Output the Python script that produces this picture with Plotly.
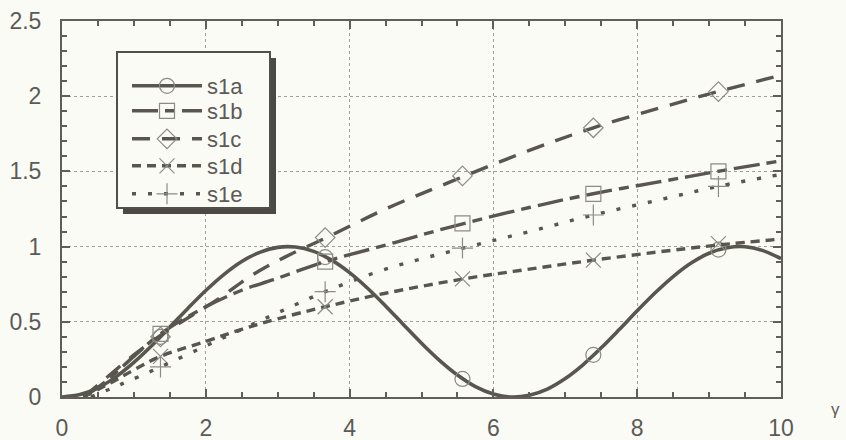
import plotly.graph_objects as go

# ---------------- data ----------------
names = ["s1a", "s1b", "s1c", "s1d", "s1e"]

s1a_x = [0, 0.25, 0.5, 0.75, 1.0, 1.25, 1.5, 1.75, 2.0, 2.25, 2.5, 2.75, 3.0, 3.25,
         3.5, 3.75, 4.0, 4.25, 4.5, 4.75, 5.0, 5.25, 5.5, 5.75, 6.0, 6.25, 6.5, 6.75,
         7.0, 7.25, 7.5, 7.75, 8.0, 8.25, 8.5, 8.75, 9.0, 9.25, 9.5, 9.75, 10.0]
s1a_y = [0.0, 0.016, 0.061, 0.134, 0.23, 0.342, 0.465, 0.589, 0.708, 0.814, 0.901,
         0.962, 0.995, 0.997, 0.968, 0.91, 0.827, 0.723, 0.605, 0.481, 0.358, 0.244,
         0.146, 0.069, 0.02, 0.0, 0.012, 0.053, 0.123, 0.216, 0.327, 0.448, 0.573,
         0.693, 0.801, 0.891, 0.956, 0.992, 0.999, 0.973, 0.92]

s1b_x = [0.3, 0.6, 1.0, 1.37, 2.0, 2.5, 2.94, 3.66, 4.5, 5.4, 6.5, 7.37, 8.3, 9.12, 10.0]
s1b_y = [0.0, 0.1, 0.27, 0.42, 0.6, 0.71, 0.78, 0.9, 1.01, 1.13, 1.26, 1.35, 1.43, 1.5, 1.57]

s1c_x = [0.3, 0.6, 1.0, 1.37, 1.8, 2.2, 2.61, 3.1, 3.68, 4.5, 5.4, 6.5, 7.39, 8.3, 9.12, 10.0]
s1c_y = [0.0, 0.12, 0.28, 0.41, 0.54, 0.66, 0.8, 0.93, 1.06, 1.25, 1.43, 1.64, 1.79, 1.92, 2.03, 2.14]

s1d_x = [0.3, 0.7, 1.0, 1.37, 2.0, 2.5, 3.0, 3.66, 4.5, 5.58, 6.5, 7.39, 8.3, 9.12, 10.0]
s1d_y = [0.0, 0.1, 0.18, 0.27, 0.37, 0.45, 0.52, 0.6, 0.69, 0.785, 0.85, 0.91, 0.965, 1.01, 1.05]

s1e_x = [0.4, 0.8, 1.37, 2.0, 2.5, 3.0, 3.66, 4.5, 5.58, 6.5, 7.39, 8.3, 9.12, 10.0]
s1e_y = [0.0, 0.08, 0.2, 0.34, 0.45, 0.56, 0.7, 0.85, 0.99, 1.1, 1.21, 1.31, 1.4, 1.48]

marker_x = [1.37, 3.66, 5.57, 7.39, 9.13]
s1a_m = [0.40, 0.93, 0.12, 0.28, 0.98]
s1b_m = [0.42, 0.90, 1.155, 1.35, 1.50]
s1c_m = [0.40, 1.06, 1.47, 1.79, 2.03]
s1d_m = [0.27, 0.60, 0.785, 0.91, 1.02]
s1e_m = [0.20, 0.70, 0.99, 1.21, 1.40]

x_ticks = [0, 2, 4, 6, 8, 10]
y_ticks = [0, 0.5, 1, 1.5, 2, 2.5]
y_tick_text = ["0", "0.5", "1", "1.5", "2", "2.5"]
x_label = "γ"

# ---------------- styling ----------------
LINE = "rgb(88,86,78)"
MARK = "rgb(140,140,133)"
TEXT = "rgb(90,90,88)"
BG = "rgb(251,251,245)"
GRID = "rgb(160,160,155)"
FONT = "Liberation Sans, Arial, sans-serif"

lines = [(s1a_x, s1a_y), (s1b_x, s1b_y), (s1c_x, s1c_y), (s1d_x, s1d_y), (s1e_x, s1e_y)]
marks = [s1a_m, s1b_m, s1c_m, s1d_m, s1e_m]
dashes = ["solid", "26px,7px,10px,7px", "18px,12px", "9px,6px", "4px,12px"]
symbols = ["circle-open", "square-open", "diamond-open", "x-thin-open", "cross-thin-open"]
widths = [3.6, 3.4, 3.4, 3.4, 3.4]
legend_ids = ["legend", "legend2", "legend3", "legend4", "legend5"]

fig = go.Figure()
for i, nm in enumerate(names):
    lx, ly = lines[i]
    fig.add_trace(go.Scatter(
        x=lx, y=ly, mode="lines", showlegend=False, hoverinfo="skip",
        line=dict(color=LINE, width=widths[i], dash=dashes[i], shape="spline", smoothing=1.0)))
    fig.add_trace(go.Scatter(
        x=marker_x, y=marks[i], mode="markers", showlegend=False,
        marker=dict(symbol=symbols[i], size=15, color=MARK, line=dict(color=MARK, width=1.2))))
    # legend entry (line + symbol)
    fig.add_trace(go.Scatter(
        x=[None], y=[None], mode="lines+markers", name=nm, legend=legend_ids[i],
        line=dict(color=LINE, width=widths[i], dash=dashes[i]),
        marker=dict(symbol=symbols[i], size=15, color=MARK, line=dict(color=MARK, width=1.2))))

# plot area: x 62..781, y 21..397 px
L, R, T, B = 62, 781, 21, 397
W, H = R - L, B - T

def px(x):
    return (x - L) / W

def py(y):
    return (B - y) / H

# legend frame with 3D shadow
fig.add_shape(type="rect", xref="paper", yref="paper",
              x0=px(123), x1=px(276), y0=py(214), y1=py(58),
              fillcolor="rgb(75,74,66)", line=dict(width=0), layer="above")
fig.add_shape(type="rect", xref="paper", yref="paper",
              x0=px(117), x1=px(270), y0=py(208), y1=py(52),
              fillcolor=BG, line=dict(color="rgb(80,79,72)", width=2), layer="above")

axis_common = dict(
    showline=True, linecolor="rgb(95,94,88)", linewidth=2, mirror="allticks",
    ticks="inside", ticklen=8, tickwidth=1.5, tickcolor="rgb(95,94,88)",
    showgrid=True, gridcolor=GRID, griddash="dot", gridwidth=1, zeroline=False,
    automargin=False,
    tickfont=dict(family=FONT, size=23, color=TEXT),
)

fig.update_xaxes(range=[0, 10], tickvals=x_ticks, ticktext=[str(v) for v in x_ticks],
                 minor=dict(dtick=0.5, ticks="inside", ticklen=5, tickcolor="rgb(95,94,88)", showgrid=False),
                 ticklabelstandoff=9, **axis_common)
fig.update_yaxes(range=[0, 2.5], tickvals=y_ticks, ticktext=y_tick_text,
                 minor=dict(dtick=0.1, ticks="inside", ticklen=5, tickcolor="rgb(95,94,88)", showgrid=False),
                 ticklabelstandoff=14, **axis_common)

fig.add_annotation(x=px(842), y=py(421), xref="paper", yref="paper", text=x_label,
                   showarrow=False, font=dict(family=FONT, size=17, color=TEXT))

row_centers = [86, 111, 139, 166, 194]
legend_layout = {}
for lid, rc in zip(legend_ids, row_centers):
    legend_layout[lid] = dict(x=px(127), y=py(rc), xanchor="left", yanchor="middle",
                              bgcolor="rgba(0,0,0,0)", borderwidth=0, itemwidth=70,
                              font=dict(family=FONT, size=22, color=TEXT))

fig.update_layout(
    width=846, height=440,
    margin=dict(l=L, r=846 - R, t=T, b=440 - B, autoexpand=False),
    paper_bgcolor=BG, plot_bgcolor=BG,
    showlegend=True,
    **legend_layout,
)

fig.write_html("out.html", config={"displayModeBar": False},
               post_script="document.body.style.margin='0';")
